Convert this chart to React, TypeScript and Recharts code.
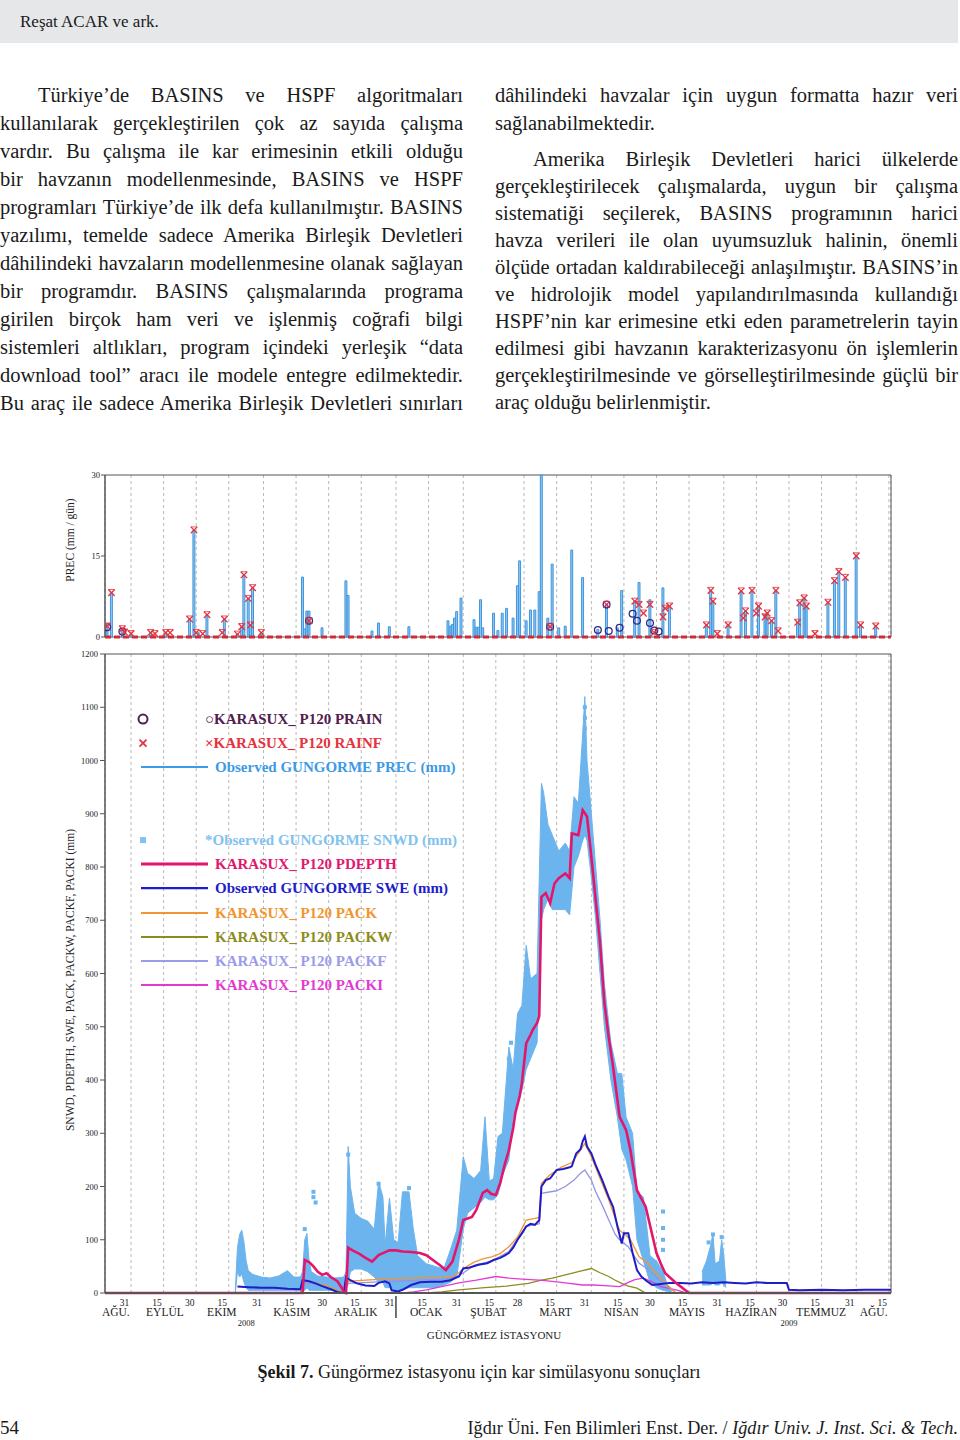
import {
  Area,
  Bar,
  CartesianGrid,
  ComposedChart,
  Legend,
  Line,
  ReferenceArea,
  ReferenceLine,
  Scatter,
  XAxis,
  YAxis,
} from "recharts"

const SERIF = '"Liberation Serif", "Times New Roman", serif'

// x ekseni gün cinsinden: 0 = 19 Ağustos 2008
const X_DOMAIN: [number, number] = [0, 362]
const DAY_TICKS = [12, 27, 42, 57, 73, 88, 103, 118, 134, 149, 165, 180, 193, 208, 224, 239, 254, 269, 285, 300, 315, 330, 346, 361]
const DAY_LABELS = ["31", "15", "30", "15", "31", "15", "30", "15", "31", "15", "31", "15", "28", "15", "31", "15", "30", "15", "31", "15", "30", "15", "31", "15"]
const MONTH_POS = [5, 27.6, 53.8, 86, 115.5, 148, 176.6, 207.5, 237.8, 268, 297.6, 329.8, 354]
const MONTH_LABELS = ["AĞU.", "EYLÜL", "EKIM", "KASIM", "ARALIK", "OCAK", "ŞUBAT", "MART", "NISAN", "MAYIS", "HAZİRAN", "TEMMUZ", "AĞU."]
const YEAR_POS = [65, 315]
const YEAR_LABELS = ["2008", "2009"]
const YEAR_BREAK = 134
const STATION = "GÜNGÖRMEZ İSTASYONU"

const PREC_TICKS = [0, 15, 30]
const SNOW_TICKS = [0, 100, 200, 300, 400, 500, 600, 700, 800, 900, 1000, 1100, 1200]

// üst panel: günlük yağış (mm/gün)
const PREC_OBS: [number, number][] = [
  [1, 2.0], [3, 8.2], [8, 1.5], [12, 0.6], [21, 0.8], [28, 0.8], [39, 3.3], [41, 19.8], [43, 0.8], [47, 4.1],
  [55, 3.3], [61, 0.5], [63, 1.9], [64, 11.5], [66, 7.1], [67, 2.2], [68, 9.1], [72, 0.8], [91, 11.1], [92, 1.5],
  [93, 4.8], [94, 4.8], [100, 1.7], [111, 10.4], [112, 7.7], [123, 1.1], [126, 2.6], [131, 1.9], [140, 1.9],
  [158, 3.0], [159, 2.0], [160, 2.3], [161, 3.5], [162, 4.7], [164, 7.2], [170, 3.2], [171, 1.8], [172, 1.8],
  [173, 6.9], [174, 1.7], [179, 4.4], [181, 1.2], [183, 4.4], [185, 5.3], [188, 3.5], [190, 9.5], [191, 14.1],
  [194, 3.0], [196, 5.0], [198, 5.0], [200, 8.4], [201, 30], [204, 3.5], [206, 13.5], [209, 1.7], [212, 2.0],
  [215, 16.1], [220, 11.0], [227, 1.4], [231, 6.0], [236, 1.7], [238, 8.6], [244, 6.6], [246, 10.1], [251, 6.9],
  [257, 9.1], [260, 5.7], [277, 2.2], [279, 8.6], [280, 6.6], [287, 2.2], [293, 8.5], [295, 4.8], [298, 8.6],
  [301, 5.7], [304, 4.2], [305, 4.4], [307, 3.0], [309, 8.6], [319, 2.7], [320, 6.3], [322, 7.2], [323, 5.7],
  [333, 6.4], [336, 10.4], [338, 12.1], [341, 11.0], [346, 15.0], [348, 2.2], [355, 2.0],
]
const RAINF: [number, number][] = [
  [1, 2.0], [3, 8.2], [8, 1.5], [9, 0.9], [12, 0.6], [21, 0.8], [23, 0.6], [28, 0.8], [30, 0.8], [39, 3.3],
  [41, 19.8], [42, 0.8], [45, 0.6], [47, 4.1], [54, 0.8], [55, 3.3], [61, 0.5], [63, 1.9], [64, 11.5], [66, 7.1],
  [67, 2.2], [68, 9.1], [72, 0.8], [94, 3.0], [205, 1.9], [231, 6.0], [244, 6.6], [246, 6.0], [248, 4.4],
  [251, 6.0], [253, 0.8], [257, 3.7], [258, 5.3], [260, 5.7], [277, 2.2], [279, 8.6], [280, 6.6], [282, 0.6],
  [287, 2.2], [293, 8.5], [294, 3.5], [295, 4.8], [298, 8.6], [300, 4.4], [301, 5.7], [304, 3.7], [305, 4.4],
  [307, 3.0], [309, 8.6], [310, 1.1], [319, 2.7], [320, 6.3], [322, 7.2], [323, 5.7], [327, 0.6], [333, 6.4],
  [336, 10.4], [338, 12.1], [341, 11.0], [346, 15.0], [348, 2.2], [355, 2.0],
]
const PRAIN: [number, number][] = [
  [1, 1.8], [8, 1.0], [94, 3.0], [205, 1.9], [227, 1.3], [231, 6.0], [232, 1.1], [237, 1.7], [243, 4.3],
  [245, 3.0], [251, 2.6], [253, 1.2], [255, 1.0],
]

// alt panel: gözlenen kar derinliği bulutu [gün, alt, üst] (mm)
const SNWD_RANGE: [number, number | null, number | null][] = [
  [60, 0, 5], [61, 40, 85], [62, 30, 110], [63, 35, 118], [64, 20, 95], [65, 10, 60], [66, 5, 42], [68, 5, 35],
  [72, 5, 30], [76, 5, 28], [80, 5, 32], [84, 5, 42], [87, 5, 30], [90, 5, 30], [91, 5, 40], [92, 5, 100],
  [93, 10, 112], [94, 5, 60], [95, 5, 40], [98, 5, 32], [102, 5, 30], [106, 5, 28], [110, 5, 30], [111, 5, 40],
  [112, 20, 275], [113, 40, 200], [115, 45, 150], [118, 45, 140], [121, 40, 135], [124, 30, 120], [126, 20, 209],
  [128, 20, 180], [129, 10, 90], [131, 10, 178], [133, 5, 100], [135, 5, 95], [137, 5, 190], [140, 10, 190],
  [142, 10, 120], [144, 10, 70], [148, 10, 55], [152, 10, 50], [156, 15, 45], [159, 20, 80], [162, 30, 118],
  [165, 120, 256], [167, 150, 225], [170, 160, 215], [173, 170, 230], [175, 180, 331], [177, 175, 210],
  [179, 175, 215], [181, 185, 294], [183, 220, 300], [186, 250, 462], [188, 330, 420], [190, 360, 525],
  [192, 380, 540], [194, 420, 653], [196, 440, 590], [199, 470, 600], [201, 700, 957], [202, 720, 940],
  [204, 740, 880], [206, 720, 860], [209, 720, 830], [212, 720, 845], [214, 710, 830], [216, 800, 932],
  [218, 820, 920], [220, 850, 1050], [221, 860, 1120], [222, 850, 1000], [224, 780, 900], [226, 700, 800],
  [228, 600, 700], [230, 500, 580], [233, 400, 470], [236, 330, 412], [238, 270, 412], [240, 250, 330],
  [243, 200, 300], [245, 100, 190], [248, 60, 180], [251, 20, 70], [254, 10, 60], [257, 5, 40], [259, 3, 15],
  [261, 0, 5], [262, null, null], [274, null, null], [275, 15, 40], [277, 15, 60], [279, 15, 90], [280, 20, 112],
  [281, 15, 55], [283, 15, 60], [284, 20, 100], [285, 15, 70], [286, 10, 20],
]
const SNWD_SPOTS: [number, number][] = [
  [96, 190], [96, 180], [97, 170], [92, 120], [112, 260], [126, 205], [140, 197], [139, 175], [186, 440],
  [187, 470], [221, 1100], [221, 1080], [221, 1060], [257, 153], [257, 122], [257, 100], [257, 81], [280, 110],
  [284, 105], [278, 95],
]
const PDEPTH: [number, number][] = [
  [0, 0], [91, 0], [92, 62], [94, 58], [96, 50], [98, 40], [100, 34], [102, 37], [104, 30], [107, 22], [109, 10],
  [110, 2], [111, 0], [112, 85], [114, 80], [117, 74], [120, 66], [123, 59], [126, 71], [128, 75], [131, 80],
  [134, 80], [137, 78], [141, 77], [145, 75], [148, 71], [151, 62], [154, 53], [157, 43], [160, 59], [163, 100],
  [165, 137], [167, 140], [169, 143], [171, 156], [174, 188], [176, 193], [178, 186], [180, 184], [182, 206],
  [184, 240], [186, 268], [188, 310], [189, 338], [191, 370], [192, 394], [194, 469], [196, 485], [197, 494],
  [199, 507], [200, 520], [201, 744], [203, 751], [205, 732], [207, 769], [209, 779], [212, 788], [214, 779],
  [215, 863], [218, 860], [220, 907], [222, 895], [224, 819], [226, 738], [228, 657], [230, 545], [232, 480],
  [234, 425], [237, 331], [240, 306], [242, 268], [245, 193], [249, 162], [252, 110], [254, 75], [256, 55],
  [258, 37], [263, 19], [267, 6], [269, 0], [362, 0],
]
const SWE: [number, number][] = [
  [61, 12], [66, 11], [72, 10], [78, 10], [84, 8], [90, 7], [91, 24], [94, 22], [97, 18], [100, 13], [104, 7],
  [107, 2], [110, 0], [111, 30], [113, 24], [116, 18], [120, 14], [124, 13], [126, 19], [129, 22], [131, 18],
  [132, 5], [135, 3], [137, 6], [141, 15], [145, 20], [150, 21], [155, 21], [159, 24], [163, 31], [165, 46],
  [168, 48], [172, 53], [176, 56], [179, 62], [182, 66], [184, 70], [186, 75], [188, 85], [190, 100], [192, 112],
  [194, 125], [196, 130], [198, 128], [200, 137], [201, 200], [203, 212], [205, 215], [208, 231], [211, 233],
  [214, 236], [215, 238], [217, 262], [219, 270], [220, 285], [221, 294], [222, 275], [224, 262], [226, 240],
  [229, 212], [232, 180], [234, 162], [236, 125], [238, 93], [239, 112], [241, 112], [243, 75], [245, 43],
  [247, 31], [249, 24], [252, 15], [256, 17], [260, 19], [265, 19], [270, 18], [275, 20], [280, 19], [285, 20],
  [290, 19], [295, 18], [300, 20], [305, 19], [310, 19], [314, 19], [315, 6], [320, 5], [330, 6], [340, 5],
  [350, 6], [362, 6],
]
const PACK: [number, number][] = [
  [0, 0], [90, 0], [91, 24], [96, 20], [102, 14], [108, 3], [110, 0], [112, 22], [120, 24], [132, 27], [148, 29],
  [156, 30], [160, 31], [163, 38], [165, 46], [170, 58], [174, 64], [178, 68], [182, 74], [186, 87], [190, 105],
  [194, 137], [198, 140], [200, 142], [201, 206], [205, 222], [210, 236], [215, 245], [218, 262], [221, 281],
  [224, 256], [228, 215], [232, 175], [235, 140], [237, 118], [240, 108], [242, 100], [246, 68], [250, 56],
  [253, 40], [256, 28], [260, 10], [263, 0], [362, 0],
]
const PACKF: [number, number][] = [
  [0, 0], [90, 0], [91, 20], [96, 17], [102, 12], [110, 0], [112, 18], [126, 21], [140, 23], [156, 26], [163, 32],
  [170, 52], [178, 60], [186, 78], [194, 125], [200, 130], [201, 187], [208, 192], [212, 200], [216, 212],
  [219, 225], [221, 231], [224, 212], [226, 190], [229, 165], [232, 137], [235, 110], [237, 100], [241, 87],
  [244, 68], [246, 56], [250, 45], [252, 37], [256, 22], [258, 18], [261, 8], [263, 0], [362, 0],
]
const PACKW: [number, number][] = [
  [0, 0], [148, 0], [155, 2], [163, 6], [175, 10], [185, 13], [195, 18], [201, 24], [206, 28], [212, 34],
  [218, 40], [224, 46], [228, 38], [232, 31], [235, 24], [238, 18], [241, 13], [245, 9], [249, 0], [362, 0],
]
const PACKI: [number, number][] = [
  [0, 0], [137, 0], [142, 2], [148, 6], [155, 12], [163, 19], [171, 24], [180, 31], [186, 28], [192, 26],
  [200, 24], [206, 22], [212, 19], [220, 15], [225, 15], [230, 14], [237, 12], [240, 18], [244, 25], [248, 28],
  [252, 21], [256, 12], [263, 6], [268, 0], [362, 0],
]

const LEGEND_ITEMS = [
  { slot: 0, kind: "circle", color: "#52204c", text: "○KARASUX_ P120 PRAIN" },
  { slot: 1, kind: "cross", color: "#e5323d", text: "×KARASUX_ P120 RAINF" },
  { slot: 2, kind: "line", color: "#3d9ae6", text: "Observed GUNGORME PREC (mm)", w: 2 },
  { slot: 5, kind: "square", color: "#80c2f0", text: "*Observed GUNGORME SNWD (mm)" },
  { slot: 6, kind: "line", color: "#e3166c", text: "KARASUX_ P120 PDEPTH", w: 3 },
  { slot: 7, kind: "line", color: "#1d1dc9", text: "Observed GUNGORME SWE (mm)", w: 2.2 },
  { slot: 8, kind: "line", color: "#f2952f", text: "KARASUX_ P120 PACK", w: 2 },
  { slot: 9, kind: "line", color: "#8c8c1e", text: "KARASUX_ P120 PACKW", w: 2 },
  { slot: 10, kind: "line", color: "#9b9be9", text: "KARASUX_ P120 PACKF", w: 2 },
  { slot: 11, kind: "line", color: "#e23bd2", text: "KARASUX_ P120 PACKI", w: 2 },
]

const LEFT_LINES = [
  "Türkiye’de BASINS ve HSPF algoritmaları",
  "kullanılarak gerçekleştirilen çok az sayıda çalışma",
  "vardır. Bu çalışma ile kar erimesinin etkili olduğu",
  "bir havzanın modellenmesinde, BASINS ve HSPF",
  "programları Türkiye’de ilk defa kullanılmıştır. BASINS",
  "yazılımı, temelde sadece Amerika Birleşik Devletleri",
  "dâhilindeki havzaların modellenmesine olanak sağlayan",
  "bir programdır. BASINS çalışmalarında programa",
  "girilen birçok ham veri ve işlenmiş coğrafi bilgi",
  "sistemleri altlıkları, program içindeki yerleşik “data",
  "download tool” aracı ile modele entegre edilmektedir.",
  "Bu araç ile sadece Amerika Birleşik Devletleri sınırları",
]
const RIGHT_TOP = ["dâhilindeki havzalar için uygun formatta hazır veri", "sağlanabilmektedir."]
const RIGHT_PARA = [
  "Amerika Birleşik Devletleri harici ülkelerde",
  "gerçekleştirilecek çalışmalarda, uygun bir çalışma",
  "sistematiği seçilerek, BASINS programının harici",
  "havza verileri ile olan uyumsuzluk halinin, önemli",
  "ölçüde ortadan kaldırabileceği anlaşılmıştır. BASINS’in",
  "ve hidrolojik model yapılandırılmasında kullandığı",
  "HSPF’nin kar erimesine etki eden parametrelerin tayin",
  "edilmesi gibi havzanın karakterizasyonu ön işlemlerin",
  "gerçekleştirilmesinde ve görselleştirilmesinde güçlü bir",
  "araç olduğu belirlenmiştir.",
]

const toRows = (pts: [number, number][]) => pts.map(([day, v]) => ({ day, v }))

// alt panel svg koordinatları
const SNOW_TOP = 10
const SNOW_PLOT_H = 639
const PLOT_BOTTOM = SNOW_TOP + SNOW_PLOT_H
const DAY_ROW_Y = PLOT_BOTTOM + 13
const MONTH_ROW_Y = PLOT_BOTTOM + 23
const YEAR_ROW_Y = PLOT_BOTTOM + 33
const TITLE_ROW_Y = PLOT_BOTTOM + 46

const GRID = "#b9b9b9"
const FRAME = "#555555"
const LEG_LEFT = 135
const ROW_H = 24.2

function DayTick(props: any) {
  const { x, payload } = props
  const i = DAY_TICKS.indexOf(payload.value)
  return (
    <g>
      <text x={x - 6.5} y={DAY_ROW_Y} textAnchor="middle" fontSize={9.5} fontFamily={SERIF} fill="#222">
        {DAY_LABELS[i]}
      </text>
      {payload.value === YEAR_BREAK && (
        <line x1={x} x2={x} y1={PLOT_BOTTOM + 3} y2={PLOT_BOTTOM + 25} stroke="#444" strokeWidth={1.5} />
      )}
    </g>
  )
}

function MonthTick(props: any) {
  const { x, payload } = props
  const i = MONTH_POS.indexOf(payload.value)
  return (
    <text x={x} y={MONTH_ROW_Y} textAnchor="middle" fontSize={11.5} fontFamily={SERIF} fill="#222">
      {MONTH_LABELS[i]}
    </text>
  )
}

function YearTick(props: any) {
  const { x, payload } = props
  const i = YEAR_POS.indexOf(payload.value)
  return (
    <text x={x} y={YEAR_ROW_Y} textAnchor="middle" fontSize={8.5} fontFamily={SERIF} fill="#222">
      {YEAR_LABELS[i]}
    </text>
  )
}

function StationTitle(props: any) {
  const vb = props.viewBox || { x: 105, width: 786 }
  return (
    <text x={vb.x + vb.width / 2 - 4} y={TITLE_ROW_Y} textAnchor="middle" fontSize={11} fontFamily={SERIF} fill="#222">
      {STATION}
    </text>
  )
}

function AxisTitle(props: any) {
  const vb = props.viewBox || { x: 65, y: 10, width: 40, height: 160 }
  const cx = vb.x + 5
  const cy = vb.y + vb.height / 2 + (props.shift || 0)
  return (
    <text
      x={cx}
      y={cy}
      transform={`rotate(-90, ${cx}, ${cy})`}
      textAnchor="middle"
      dominantBaseline="central"
      fontSize={11.5}
      fontFamily={SERIF}
      fill="#222"
    >
      {props.text}
    </text>
  )
}

function RainCross(props: any) {
  const { cx, cy } = props
  if (cx == null || cy == null) return <g />
  const s = 3.2
  return (
    <g stroke="#e5323d" strokeWidth={1.3}>
      <line x1={cx - s} y1={cy - s} x2={cx + s} y2={cy + s} />
      <line x1={cx - s} y1={cy + s} x2={cx + s} y2={cy - s} />
      <line x1={cx - s} y1={cy - s} x2={cx + s} y2={cy - s} strokeWidth={0.8} />
    </g>
  )
}

function RainCircle(props: any) {
  const { cx, cy } = props
  if (cx == null || cy == null) return <g />
  return <circle cx={cx} cy={cy} r={3.4} fill="none" stroke="#2e2a86" strokeWidth={1.3} />
}

function SnowSquare(props: any) {
  const { cx, cy } = props
  if (cx == null || cy == null) return <g />
  return <rect x={cx - 2} y={cy - 2} width={4} height={4} fill="#6cb4ee" />
}

function LegendBox() {
  return (
    <div style={{ position: "relative", width: 420, height: ROW_H * 12 }}>
      {LEGEND_ITEMS.map((it) => (
        <div key={it.text} style={{ position: "absolute", left: 0, top: it.slot * ROW_H, width: 420, height: ROW_H }}>
          <svg width={76} height={ROW_H} style={{ position: "absolute", left: 0, top: 0 }}>
            {it.kind === "line" && (
              <line x1={6} x2={73} y1={ROW_H / 2} y2={ROW_H / 2} stroke={it.color} strokeWidth={it.w} />
            )}
            {it.kind === "circle" && (
              <circle cx={8} cy={ROW_H / 2} r={4.5} fill="none" stroke={it.color} strokeWidth={2} />
            )}
            {it.kind === "cross" && (
              <g stroke={it.color} strokeWidth={1.8}>
                <line x1={4.5} y1={ROW_H / 2 - 3.5} x2={11.5} y2={ROW_H / 2 + 3.5} />
                <line x1={4.5} y1={ROW_H / 2 + 3.5} x2={11.5} y2={ROW_H / 2 - 3.5} />
              </g>
            )}
            {it.kind === "square" && <rect x={5} y={ROW_H / 2 - 3} width={6} height={6} fill={it.color} />}
          </svg>
          <span
            style={{
              position: "absolute",
              left: it.kind === "line" ? 80 : 70,
              top: 0,
              lineHeight: `${ROW_H}px`,
              fontFamily: SERIF,
              fontWeight: 700,
              fontSize: 15,
              color: it.color,
              whiteSpace: "nowrap",
            }}
          >
            {it.text}
          </span>
        </div>
      ))}
    </div>
  )
}

function PrecipPanel() {
  return (
    <div style={{ position: "absolute", left: 0, top: 465, width: 960, height: 180 }}>
      <ComposedChart width={960} height={180} data={toRows(PREC_OBS)} margin={{ top: 10, right: 69, bottom: 8, left: 65 }}>
        <CartesianGrid horizontal={false} stroke={GRID} strokeDasharray="3 3" />
        <XAxis type="number" dataKey="day" domain={X_DOMAIN} ticks={DAY_TICKS} allowDataOverflow hide />
        <YAxis
          type="number"
          domain={[0, 30]}
          ticks={PREC_TICKS}
          interval={0}
          width={40}
          tickSize={4}
          tickMargin={1}
          tick={{ fontSize: 8.5, fill: "#222", fontFamily: SERIF }}
          axisLine={{ stroke: FRAME }}
          tickLine={{ stroke: FRAME }}
          label={<AxisTitle text="PREC (mm / gün)" shift={-16} />}
        />
        <ReferenceArea x1={0} x2={362} y1={0} y2={30} fill="none" stroke={FRAME} strokeWidth={1} ifOverflow="visible" />
        <Bar dataKey="v" barSize={3} fill="#92c8f1" stroke="#3f95dd" strokeWidth={1} isAnimationActive={false} />
        <ReferenceLine y={0} stroke="#d22a37" strokeWidth={3} strokeDasharray="6 3" />
        <Scatter data={toRows(PRAIN)} dataKey="v" shape={(p: any) => <RainCircle {...p} />} isAnimationActive={false} />
        <Scatter data={toRows(RAINF)} dataKey="v" shape={(p: any) => <RainCross {...p} />} isAnimationActive={false} />
      </ComposedChart>
    </div>
  )
}

function SnowPanel() {
  const snwdRows = SNWD_RANGE.map(([day, lo, hi]) => ({ day, range: lo == null || hi == null ? null : [lo, hi] }))
  return (
    <div style={{ position: "absolute", left: 0, top: 644, width: 960, height: 704 }}>
      <ComposedChart width={960} height={704} margin={{ top: SNOW_TOP, right: 69, bottom: 0, left: 65 }}>
        <CartesianGrid horizontal={false} stroke={GRID} strokeDasharray="3 3" />
        <XAxis
          type="number"
          dataKey="day"
          domain={X_DOMAIN}
          ticks={DAY_TICKS}
          interval={0}
          allowDataOverflow
          height={20}
          tick={<DayTick />}
          tickLine={false}
          axisLine={{ stroke: FRAME, strokeWidth: 2 }}
        />
        <XAxis
          xAxisId="month"
          type="number"
          dataKey="day"
          domain={X_DOMAIN}
          ticks={MONTH_POS}
          interval={0}
          allowDataOverflow
          height={20}
          tick={<MonthTick />}
          tickLine={false}
          axisLine={false}
        />
        <XAxis
          xAxisId="year"
          type="number"
          dataKey="day"
          domain={X_DOMAIN}
          ticks={YEAR_POS}
          interval={0}
          allowDataOverflow
          height={15}
          tick={<YearTick />}
          tickLine={false}
          axisLine={false}
          label={<StationTitle />}
        />
        <YAxis
          type="number"
          domain={[0, 1200]}
          ticks={SNOW_TICKS}
          interval={0}
          width={40}
          tickSize={5}
          tickMargin={2}
          tick={{ fontSize: 8.5, fill: "#222", fontFamily: SERIF }}
          axisLine={{ stroke: FRAME }}
          tickLine={{ stroke: FRAME }}
          label={<AxisTitle text="SNWD, PDEPTH, SWE, PACK, PACKW, PACKF, PACKI (mm)" shift={6.5} />}
        />
        <ReferenceArea x1={0} x2={362} y1={0} y2={1200} fill="none" stroke={FRAME} strokeWidth={1} ifOverflow="visible" />
        <Area
          data={snwdRows}
          dataKey="range"
          type="linear"
          stroke="#6cb4ee"
          strokeWidth={1}
          fill="#6cb4ee"
          fillOpacity={1}
          connectNulls={false}
          isAnimationActive={false}
        />
        <Scatter data={toRows(SNWD_SPOTS)} dataKey="v" shape={(p: any) => <SnowSquare {...p} />} isAnimationActive={false} />
        <Line data={toRows(PACKW)} dataKey="v" stroke="#8c8c1e" strokeWidth={1.3} dot={false} isAnimationActive={false} />
        <Line data={toRows(PACKI)} dataKey="v" stroke="#e23bd2" strokeWidth={1.3} dot={false} isAnimationActive={false} />
        <Line data={toRows(PACKF)} dataKey="v" stroke="#9393e6" strokeWidth={1.3} dot={false} isAnimationActive={false} />
        <Line data={toRows(PACK)} dataKey="v" stroke="#f2952f" strokeWidth={1.3} dot={false} isAnimationActive={false} />
        <Line data={toRows(SWE)} dataKey="v" stroke="#1d1dc9" strokeWidth={2} dot={false} isAnimationActive={false} />
        <Line data={toRows(PDEPTH)} dataKey="v" stroke="#e3166c" strokeWidth={2.6} dot={false} isAnimationActive={false} />
        <Legend
          layout="vertical"
          align="center"
          verticalAlign="middle"
          content={<LegendBox />}
          wrapperStyle={{ left: LEG_LEFT, top: 63, width: 420, height: ROW_H * 12, margin: 0, padding: 0 }}
        />
      </ComposedChart>
    </div>
  )
}

const lineStyle = (top: number, left: number, width: number, justify: boolean, indent = 0, h = 28): any => ({
  position: "absolute",
  top,
  left,
  width: width - indent,
  paddingLeft: indent,
  height: h,
  lineHeight: `${h}px`,
  fontSize: 20.5,
  whiteSpace: "normal",
  textAlign: justify ? "justify" : "left",
  textAlignLast: justify ? "justify" : "left",
})

export default function App() {
  return (
    <div
      style={{
        position: "absolute",
        left: 0,
        top: 0,
        width: 960,
        height: 1440,
        background: "#ffffff",
        fontFamily: SERIF,
        color: "#1a1a1a",
        overflow: "hidden",
      }}
    >
      <div style={{ position: "absolute", left: 0, top: 0, width: 958, height: 43, background: "#e6e7e8" }} />
      <div style={{ position: "absolute", left: 20, top: 10, fontSize: 17, lineHeight: "24px" }}>Reşat ACAR ve ark.</div>

      {LEFT_LINES.map((t, i) => (
        <div key={`l${i}`} style={lineStyle(81 + 28 * i, 0, 463, true, i === 0 ? 38 : 0)}>
          {t}
        </div>
      ))}
      {RIGHT_TOP.map((t, i) => (
        <div key={`rt${i}`} style={lineStyle(81 + 28 * i, 495, 463, i === 0)}>
          {t}
        </div>
      ))}
      {RIGHT_PARA.map((t, i) => (
        <div key={`rp${i}`} style={lineStyle(146 + 27 * i, 495, 463, i < RIGHT_PARA.length - 1, i === 0 ? 38 : 0, 27)}>
          {t}
        </div>
      ))}

      <PrecipPanel />
      <SnowPanel />

      <div style={{ position: "absolute", left: 0, top: 1360, width: 958, textAlign: "center", fontSize: 18, lineHeight: "24px" }}>
        <b>Şekil 7.</b> Güngörmez istasyonu için kar simülasyonu sonuçları
      </div>
      <div style={{ position: "absolute", left: 0, top: 1416, fontSize: 19, lineHeight: "24px" }}>54</div>
      <div
        style={{
          position: "absolute",
          right: 2,
          top: 1416,
          fontSize: 18.2,
          lineHeight: "24px",
          whiteSpace: "nowrap",
        }}
      >
        Iğdır Üni. Fen Bilimleri Enst. Der. / <i>Iğdır Univ. J. Inst. Sci. &amp; Tech.</i>
      </div>
    </div>
  )
}
